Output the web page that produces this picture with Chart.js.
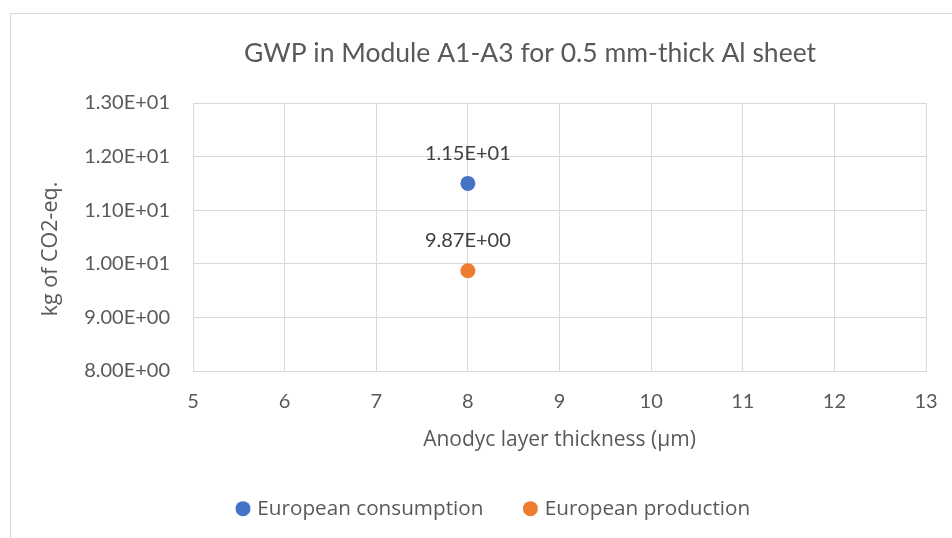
<!DOCTYPE html>
<html>
<head>
<meta charset="utf-8">
<title>GWP in Module A1-A3</title>
<script src="https://cdn.jsdelivr.net/npm/chart.js@4.4.0/dist/chart.umd.min.js"></script>
<style>
  html, body { margin: 0; padding: 0; background: #fff; }
  #chart { display: block; }
</style>
</head>
<body>
<canvas id="chart" width="952" height="538"></canvas>
<script>
// data
const thickness = [8];                 // anodyc layer thickness (µm)
const consumption = [11.5];            // kg CO2-eq, European consumption
const production = [9.87];             // kg CO2-eq, European production
const seriesNames = ['European consumption', 'European production'];
const xRange = [5, 13];
const yRange = [8, 13];

const FONT = 'Lato';
const TEXT_FONT = '"Open Sans"';
const GREY = '#595959';
const LEGEND_PAD = 43;

// 11.5 -> "1.15E+01"
function sci(v) {
  const parts = v.toExponential(2).split('e');
  const n = parseInt(parts[1], 10);
  return parts[0] + 'E' + (n < 0 ? '-' : '+') + String(Math.abs(n)).padStart(2, '0');
}

const toPoints = ys => ys.map((y, i) => ({ x: thickness[i], y: y }));

// light grey frame of the chart object
const frame = {
  id: 'frame',
  beforeDraw(chart) {
    const ctx = chart.ctx;
    ctx.save();
    ctx.strokeStyle = '#d9d9d9';
    ctx.lineWidth = 1;
    ctx.strokeRect(10.5, 13.5, 1200, 800);
    ctx.restore();
  }
};

// title, legend and y title sit off-centre in the original
const placeBoxes = {
  id: 'placeBoxes',
  afterLayout(chart) {
    const t = chart.titleBlock;
    const tw = t.right - t.left;
    t.left = 530 - tw / 2;
    t.right = t.left + tw;
    const lg = chart.legend;
    const lw = lg.width;
    lg.left = 239 - LEGEND_PAD;
    lg.right = lg.left + lw;
    // only moves the rotated axis title, ticks are already placed
    chart.scales.y.top += 12;
    chart.scales.y.bottom += 12;
  }
};

// value labels above the markers
const valueLabels = {
  id: 'valueLabels',
  afterDatasetsDraw(chart) {
    const ctx = chart.ctx;
    ctx.save();
    ctx.font = '20px ' + FONT;
    ctx.fillStyle = '#404040';
    ctx.textAlign = 'center';
    ctx.textBaseline = 'middle';
    chart.data.datasets.forEach((ds, i) => {
      chart.getDatasetMeta(i).data.forEach((pt, j) => {
        ctx.fillText(sci(ds.data[j].y), pt.x, pt.y - 30);
      });
    });
    ctx.restore();
  }
};

new Chart(document.getElementById('chart'), {
  type: 'scatter',
  data: {
    datasets: [
      {
        label: seriesNames[0],
        data: toPoints(consumption),
        backgroundColor: '#4472c4',
        borderColor: '#4472c4',
        pointRadius: 7.5,
        pointBorderWidth: 0
      },
      {
        label: seriesNames[1],
        data: toPoints(production),
        backgroundColor: '#ed7d31',
        borderColor: '#ed7d31',
        pointRadius: 7.5,
        pointBorderWidth: 0
      }
    ]
  },
  options: {
    responsive: false,
    animation: false,
    layout: { padding: { left: 0, right: 26, top: 0, bottom: 9 } },
    plugins: {
      tooltip: { enabled: false },
      title: {
        display: true,
        text: 'GWP in Module A1-A3 for 0.5 mm-thick Al sheet',
        color: GREY,
        font: { family: FONT, size: 26.5, weight: 'normal', lineHeight: 1.2 },
        padding: { top: 38, bottom: 103 - 38 - 26.5 * 1.2 }
      },
      legend: {
        position: 'bottom',
        align: 'start',
        labels: {
          usePointStyle: true,
          pointStyle: 'circle',
          boxWidth: 8,
          boxHeight: 10.6,
          padding: LEGEND_PAD,
          color: GREY,
          font: { family: TEXT_FONT, size: 20.7 }
        }
      }
    },
    scales: {
      x: {
        type: 'linear',
        min: xRange[0],
        max: xRange[1],
        ticks: { stepSize: 1, padding: 19, color: GREY, font: { family: FONT, size: 20 } },
        grid: { color: '#d9d9d9', drawTicks: false },
        border: { color: '#d9d9d9' },
        title: {
          display: true,
          text: 'Anodyc layer thickness (µm)',
          color: GREY,
          font: { family: TEXT_FONT, size: 21, lineHeight: 1.2 },
          padding: { top: 10, bottom: 3 }
        },
        afterFit(s) {
          s.height = 538 - 9 - s.chart.legend.height - 371;
          s.paddingLeft = 0;
          s.paddingRight = 0;
        }
      },
      y: {
        type: 'linear',
        min: yRange[0],
        max: yRange[1],
        ticks: { stepSize: 1, padding: 23, color: GREY, font: { family: FONT, size: 20 }, callback: v => sci(v) },
        grid: { color: '#d9d9d9', drawTicks: false },
        border: { display: false },
        title: {
          display: true,
          text: 'kg of CO2-eq.',
          color: GREY,
          font: { family: TEXT_FONT, size: 21.5, lineHeight: 1.2 },
          padding: { top: 38, bottom: 0 }
        },
        afterFit(s) { s.width = 193; }
      }
    }
  },
  plugins: [frame, placeBoxes, valueLabels]
});
</script>
</body>
</html>
